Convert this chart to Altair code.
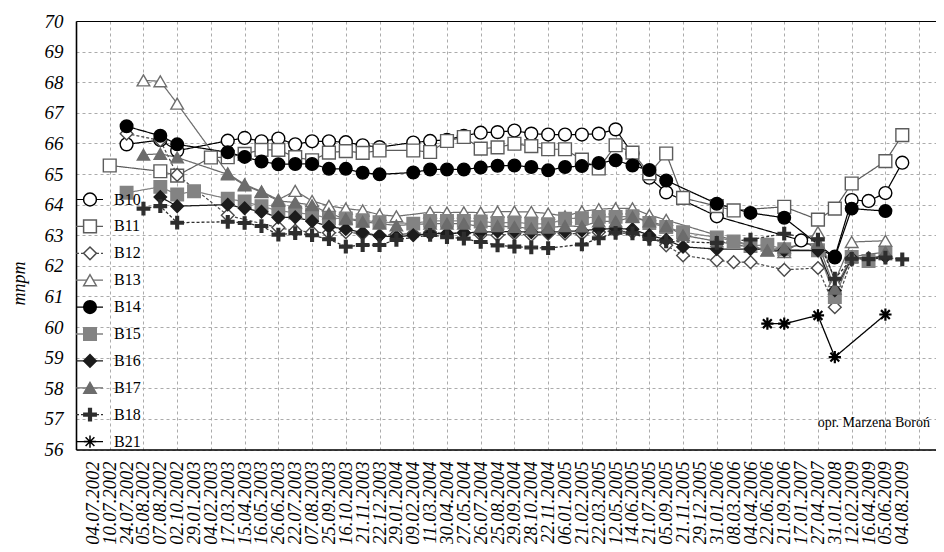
import altair as alt
import pandas as pd

dates = ["04.07.2002", "10.07.2002", "24.07.2002", "05.08.2002", "07.08.2002", "02.10.2002",
         "29.01.2003", "04.02.2003", "17.03.2003", "15.04.2003", "16.05.2003", "26.06.2003",
         "22.07.2003", "07.08.2003", "25.09.2003", "16.10.2003", "21.11.2003", "22.12.2003",
         "29.01.2004", "09.02.2004", "11.03.2004", "30.04.2004", "27.05.2004", "26.07.2004",
         "25.08.2004", "29.09.2004", "28.10.2004", "22.11.2004", "06.01.2005", "21.02.2005",
         "22.03.2005", "12.05.2005", "14.06.2005", "21.07.2005", "05.09.2005", "21.11.2005",
         "29.12.2005", "31.01.2006", "08.03.2006", "04.04.2006", "22.06.2006", "21.09.2006",
         "17.01.2007", "27.04.2007", "31.01.2008", "12.02.2009", "16.04.2009", "05.06.2009",
         "04.08.2009"]

# (measurement number, level in m a.s.l.)
B10 = [(3, 65.97), (5, 66.11), (6, 65.76), (9, 66.09), (10, 66.18), (11, 66.07), (12, 66.16),
       (13, 65.97), (14, 66.07), (15, 66.07), (16, 66.04), (17, 65.94), (18, 65.88), (20, 66.03),
       (21, 66.08), (22, 66.12), (23, 66.25), (24, 66.35), (25, 66.37), (26, 66.42), (27, 66.32),
       (28, 66.29), (29, 66.29), (30, 66.29), (31, 66.32), (32, 66.46), (33, 65.67), (34, 64.88),
       (35, 64.40), (38, 63.62), (43, 62.83), (45, 62.30), (46, 64.15), (47, 64.12), (48, 64.38),
       (49, 65.37)]
B11 = [(2, 65.28), (5, 65.09), (6, 64.95), (8, 65.54), (9, 65.55), (10, 65.66), (11, 65.79),
       (12, 65.79), (13, 65.55), (14, 65.45), (15, 65.70), (16, 65.75), (17, 65.69), (18, 65.77),
       (20, 65.77), (21, 65.72), (22, 66.08), (23, 66.21), (24, 65.83), (25, 65.87), (26, 65.99),
       (27, 65.91), (28, 65.81), (29, 65.81), (30, 65.47), (31, 65.18), (32, 65.94), (33, 65.70),
       (34, 65.02), (35, 65.67), (36, 64.22), (38, 63.95), (39, 63.81), (42, 63.93), (44, 63.51),
       (45, 63.87), (46, 64.69), (48, 65.42), (49, 66.27)]
B12 = [(3, 66.32), (5, 66.10), (6, 64.97), (9, 63.65), (12, 63.25), (13, 63.15), (14, 63.10),
       (15, 63.08), (16, 63.10), (17, 63.05), (18, 63.00), (19, 63.03), (20, 63.05), (21, 63.10),
       (22, 63.05), (23, 63.08), (24, 63.02), (25, 63.00), (26, 63.05), (27, 63.00), (28, 63.05),
       (29, 63.05), (30, 63.05), (31, 63.10), (32, 63.15), (33, 63.10), (34, 62.95), (35, 62.67),
       (36, 62.34), (38, 62.18), (39, 62.12), (40, 62.12), (42, 61.87), (44, 61.93), (45, 60.65),
       (46, 62.20), (47, 62.25)]
B13 = [(4, 68.06), (5, 68.03), (6, 67.30), (9, 65.02), (10, 64.66), (11, 64.43), (12, 64.16),
       (13, 64.45), (14, 64.12), (15, 63.96), (16, 63.87), (17, 63.81), (18, 63.67), (19, 63.62),
       (21, 63.75), (22, 63.74), (23, 63.75), (24, 63.74), (25, 63.77), (26, 63.77), (27, 63.76),
       (28, 63.71), (29, 63.62), (30, 63.78), (31, 63.85), (32, 63.88), (33, 63.88), (34, 63.66),
       (35, 63.50), (41, 62.50), (42, 62.45), (44, 63.10), (45, 61.50), (46, 62.78), (48, 62.82)]
B14 = [(3, 66.56), (5, 66.25), (6, 65.97), (9, 65.71), (10, 65.56), (11, 65.41), (12, 65.32),
       (13, 65.33), (14, 65.33), (15, 65.17), (16, 65.17), (17, 65.04), (18, 64.99), (20, 65.05),
       (21, 65.15), (22, 65.15), (23, 65.15), (24, 65.21), (25, 65.27), (26, 65.28), (27, 65.23),
       (28, 65.12), (29, 65.23), (30, 65.26), (31, 65.36), (32, 65.45), (33, 65.28), (34, 65.13),
       (35, 64.79), (38, 64.03), (40, 63.73), (42, 63.57), (45, 62.27), (46, 63.87), (48, 63.79)]
B15 = [(3, 64.39), (5, 64.58), (6, 64.33), (7, 64.44), (9, 64.19), (10, 64.10), (11, 63.95),
       (12, 63.80), (13, 63.74), (14, 63.68), (15, 63.55), (16, 63.55), (17, 63.49), (18, 63.43),
       (20, 63.38), (21, 63.47), (22, 63.47), (23, 63.47), (24, 63.45), (25, 63.40), (26, 63.42),
       (27, 63.38), (28, 63.36), (29, 63.54), (30, 63.56), (31, 63.60), (32, 63.60), (33, 63.62),
       (34, 63.40), (35, 63.27), (36, 63.10), (38, 62.93), (39, 62.80), (40, 62.65), (41, 62.69),
       (42, 62.54), (44, 62.51), (45, 60.98), (46, 62.29), (47, 62.16), (48, 62.40)]
B16 = [(5, 64.25), (6, 63.95), (9, 64.00), (10, 63.88), (11, 63.77), (12, 63.58), (13, 63.59),
       (14, 63.46), (15, 63.28), (16, 63.20), (17, 63.09), (18, 62.98), (19, 62.95), (20, 63.00),
       (21, 63.05), (22, 63.05), (23, 63.08), (24, 63.10), (25, 63.12), (26, 63.12), (27, 63.10),
       (28, 63.10), (29, 63.12), (30, 63.15), (31, 63.20), (32, 63.22), (33, 63.20), (34, 63.00),
       (35, 62.85), (36, 62.62), (38, 62.55), (40, 62.55), (42, 62.50), (44, 62.50), (45, 61.20),
       (46, 62.25), (48, 62.30)]
B17 = [(4, 65.63), (5, 65.66), (6, 65.54), (9, 64.99), (10, 64.63), (11, 64.41), (12, 64.12),
       (13, 64.07), (14, 63.98), (15, 63.71), (16, 63.54), (17, 63.44), (18, 63.38), (19, 63.32),
       (21, 63.38), (22, 63.38), (23, 63.38), (24, 63.28), (25, 63.30), (26, 63.27), (27, 63.22),
       (28, 63.25), (29, 63.30), (30, 63.29), (31, 63.45), (32, 63.45), (33, 63.60), (34, 63.45),
       (35, 63.30), (36, 63.00), (38, 62.80), (41, 62.51), (42, 62.60), (44, 62.75), (45, 61.25),
       (46, 62.30), (48, 62.45)]
B18 = [(4, 63.87), (5, 63.95), (6, 63.41), (9, 63.44), (10, 63.40), (11, 63.30), (12, 63.02),
       (13, 63.07), (14, 63.00), (15, 62.87), (16, 62.63), (17, 62.68), (18, 62.68), (19, 62.85),
       (21, 63.01), (22, 62.94), (23, 62.89), (24, 62.78), (25, 62.67), (26, 62.63), (27, 62.60),
       (28, 62.58), (30, 62.70), (31, 62.90), (32, 63.08), (33, 63.06), (34, 62.88), (35, 62.80),
       (38, 62.75), (40, 62.86), (42, 63.05), (44, 62.86), (45, 61.58), (46, 62.23), (47, 62.22),
       (48, 62.27), (49, 62.21)]
B21 = [(41, 60.11), (42, 60.11), (44, 60.38), (45, 59.02), (48, 60.41)]

series_names = ["B10", "B11", "B12", "B13", "B14", "B15", "B16", "B17", "B18", "B21"]
series_data = [B10, B11, B12, B13, B14, B15, B16, B17, B18, B21]
y_ticks = list(range(56, 71))
note = "opr. Marzena Boroń"

# ---- styles ----
stroke_cols = ["#000000", "#5c5c5c", "#4a4a4a", "#6e6e6e", "#000000",
               "#838383", "#1c1c1c", "#6c6c6c", "#2e2e2e", "#000000"]
fill_cols = ["#ffffff", "#ffffff", "#ffffff", "#ffffff", "#000000",
             "#838383", "#1c1c1c", "#6c6c6c", "#2e2e2e", "transparent"]
plus_path = ("M-1,-0.22L-0.22,-0.22L-0.22,-1L0.22,-1L0.22,-0.22L1,-0.22L1,0.22"
             "L0.22,0.22L0.22,1L-0.22,1L-0.22,0.22L-1,0.22Z")
star_path = "M-1,0L1,0M0,-1L0,1M-0.72,-0.72L0.72,0.72M-0.72,0.72L0.72,-0.72"
shapes = ["circle", "square", "diamond", "triangle-up", "circle",
          "square", "diamond", "triangle-up", plus_path, star_path]
sizes = [165, 150, 80, 150, 165, 140, 95, 135, 190, 160]
dashes = [[1, 0], [1, 0], [3, 2], [1, 0], [1, 0], [1, 0], [1, 0], [1, 0], [3, 2], [1, 0]]
widths = [1.2, 1.3, 1.1, 1.3, 1.8, 1.5, 1.3, 1.3, 1.2, 1.4]

rows = []
for name, pairs in zip(series_names, series_data):
    for case, val in pairs:
        rows.append({"series": name, "case": case, "level": val})
df = pd.DataFrame(rows)
df_dates = pd.DataFrame({"case": list(range(1, len(dates) + 1)), "date": dates})
df_leg = pd.DataFrame({"series": series_names, "i": list(range(len(series_names)))})
df_note = pd.DataFrame({"t": [note]})

W = 860
H = 428.5
FONT = "Liberation Serif, Times New Roman, serif"

xscale = alt.Scale(domain=[0, 51], nice=False, zero=False)
yscale = alt.Scale(domain=[56, 70], nice=False, zero=False)
s_stroke = alt.Scale(domain=series_names, range=stroke_cols)
s_fill = alt.Scale(domain=series_names, range=fill_cols)
s_shape = alt.Scale(domain=series_names, range=shapes)
s_size = alt.Scale(domain=series_names, range=sizes)
s_dash = alt.Scale(domain=series_names, range=dashes)
s_width = alt.Scale(domain=series_names, range=widths)

x_bottom = alt.Axis(values=list(range(0, 51, 2)), labels=False, ticks=False, tickSize=0,
                    grid=True, gridColor="#ababab", gridDash=[3, 3], gridWidth=1,
                    domain=True, domainColor="#000000", domainWidth=1.6, title=None)
y_left = alt.Axis(values=y_ticks, ticks=False, tickSize=0, grid=True, gridColor="#ababab",
                  gridDash=[3, 3], gridWidth=1, domain=True, domainColor="#000000",
                  domainWidth=1.6, labelFont=FONT, labelFontStyle="italic", labelFontSize=19,
                  labelColor="#000000", labelPadding=13, title="mnpm", titleFont=FONT,
                  titleFontStyle="italic", titleFontWeight="normal", titleFontSize=18,
                  titleColor="#000000", titleAngle=270, titleX=-51.5, titleY=262,
                  titleAlign="center", titleBaseline="alphabetic")

lines = alt.Chart(df).mark_line().encode(
    x=alt.X("case:Q", scale=xscale, axis=x_bottom),
    y=alt.Y("level:Q", scale=yscale, axis=y_left),
    stroke=alt.Stroke("series:N", scale=s_stroke, legend=None),
    strokeDash=alt.StrokeDash("series:N", scale=s_dash, legend=None),
    strokeWidth=alt.StrokeWidth("series:N", scale=s_width, legend=None),
    detail="series:N",
    order="case:Q",
)

pt_enc = dict(
    stroke=alt.Stroke("series:N", scale=s_stroke, legend=None),
    fill=alt.Fill("series:N", scale=s_fill, legend=None),
    shape=alt.Shape("series:N", scale=s_shape, legend=None),
    size=alt.Size("series:N", scale=s_size, legend=None),
)

points = alt.Chart(df).mark_point(opacity=1, fillOpacity=1, strokeWidth=1.4).encode(
    x=alt.X("case:Q", scale=xscale, axis=None),
    y=alt.Y("level:Q", scale=yscale, axis=None),
    **pt_enc,
).transform_filter("datum.series != 'B21'")

stars = alt.Chart(df).mark_point(opacity=1, fillOpacity=1, strokeWidth=2.2).encode(
    x=alt.X("case:Q", scale=xscale, axis=None),
    y=alt.Y("level:Q", scale=yscale, axis=None),
    **pt_enc,
).transform_filter("datum.series == 'B21'")

xlabels = alt.Chart(df_dates).mark_text(
    angle=270, align="right", baseline="middle", font=FONT, fontStyle="italic",
    fontSize=18.5, color="#000000"
).encode(
    x=alt.X("case:Q", scale=xscale,
            axis=alt.Axis(orient="top", labels=False, ticks=False, tickSize=0, grid=False,
                          domain=True, domainColor="#000000", domainWidth=1.2, title=None)),
    y=alt.value(H + 12),
    text="date:N",
)

leg_y = alt.Y("i:Q", scale=alt.Scale(domain=[0, 9], range=[178.5, 420.6]), axis=None)

leg_lines = alt.Chart(df_leg).mark_rule().encode(
    x=alt.value(0), x2=alt.value(27), y=leg_y,
    stroke=alt.Stroke("series:N", scale=s_stroke, legend=None),
    strokeDash=alt.StrokeDash("series:N", scale=s_dash, legend=None),
    strokeWidth=alt.StrokeWidth("series:N", scale=s_width, legend=None),
)
leg_points = alt.Chart(df_leg).mark_point(opacity=1, fillOpacity=1, strokeWidth=1.5).encode(
    x=alt.value(14), y=leg_y, **pt_enc,
)
leg_text = alt.Chart(df_leg).mark_text(
    align="left", baseline="middle", font=FONT, fontSize=16, color="#000000"
).encode(x=alt.value(38), y=leg_y, text="series:N")

note_text = alt.Chart(df_note).mark_text(
    align="right", baseline="middle", font=FONT, fontSize=14, color="#000000"
).encode(x=alt.value(854), y=alt.value(402), text="t:N")

chart = alt.layer(
    lines, points, stars, xlabels, leg_lines, leg_points, leg_text, note_text
).resolve_scale(y="independent").resolve_axis(x="independent").properties(
    width=W, height=H,
    autosize=alt.AutoSizeParams(type="none"),
    padding={"left": 68, "top": 13, "right": 0, "bottom": 94},
).configure_view(stroke=None).configure(background="#ffffff")

chart.save("out.html", embed_options={"renderer": "svg", "actions": False})
